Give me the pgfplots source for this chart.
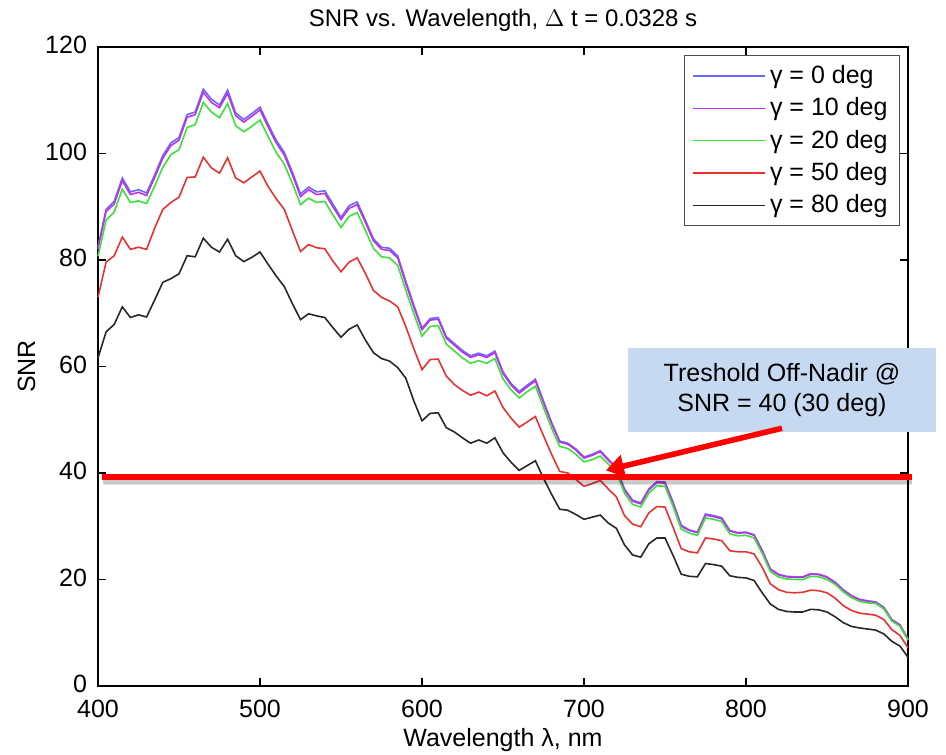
\documentclass[border=0pt]{standalone}
\usepackage{pgfplots}
\usepackage{pgfplotstable}
\pgfplotsset{compat=1.18}
\usetikzlibrary{arrows.meta}
\usepackage{fontspec}
\setmainfont{Liberation Sans}
\definecolor{cg0}{RGB}{105,105,255}
\definecolor{cg10}{RGB}{190,50,230}
\definecolor{cg20}{RGB}{60,225,60}
\definecolor{cg50}{RGB}{232,50,50}
\definecolor{cg80}{RGB}{40,40,40}
\definecolor{boxfill}{RGB}{198,217,240}
\pgfplotstableread{
x g0 g10 g20 g50 g80
400 82.5 82.1 80.7 73.0 61.6
405 89.5 89.1 87.5 79.6 66.5
410 91.0 90.5 89.0 80.8 67.9
415 95.4 94.9 93.3 84.3 71.2
420 92.8 92.3 90.8 82.0 69.2
425 93.2 92.7 91.1 82.4 69.7
430 92.6 92.1 90.6 82.0 69.3
435 96.0 95.5 93.9 86.0 72.5
440 99.6 99.1 97.4 89.5 75.8
445 102.0 101.5 99.8 90.8 76.5
450 103.0 102.5 100.7 91.8 77.4
455 107.3 106.8 104.9 95.5 80.8
460 107.8 107.3 105.4 95.6 80.6
465 112.1 111.5 109.6 99.3 84.1
470 110.2 109.6 107.8 97.3 82.4
475 109.1 108.6 106.7 96.3 81.5
480 111.9 111.3 109.4 99.2 83.9
485 107.6 107.1 105.2 95.4 80.8
490 106.4 105.9 104.1 94.5 79.7
495 107.5 107.0 105.1 95.6 80.5
500 108.7 108.2 106.3 96.7 81.5
505 105.5 105.0 103.2 93.8 79.2
510 102.5 102.0 100.2 91.5 77.0
515 100.2 99.7 98.0 89.5 75.0
520 96.5 96.0 94.4 85.5 71.8
525 92.4 91.9 90.4 81.6 68.8
530 93.7 93.2 91.6 82.9 69.9
535 92.8 92.3 90.8 82.3 69.5
540 93.0 92.5 91.0 82.1 69.2
545 90.5 90.0 88.5 79.8 67.3
550 88.0 87.6 86.1 77.8 65.5
555 90.2 89.7 88.2 79.6 67.0
560 90.9 90.4 88.9 80.4 67.8
565 87.5 87.1 85.6 77.5 65.0
570 84.0 83.6 82.2 74.3 62.6
575 82.4 82.0 80.6 73.0 61.5
580 82.2 81.8 80.4 72.3 61.0
585 80.8 80.4 79.0 71.2 59.8
590 76.0 75.6 74.3 67.5 57.8
595 71.5 71.1 69.9 63.3 53.5
600 67.2 66.9 65.7 59.4 49.8
605 69.0 68.7 67.5 61.3 51.2
610 69.2 68.9 67.7 61.4 51.3
615 65.6 65.3 64.2 58.2 48.5
620 64.3 64.0 62.9 56.6 47.7
625 63.0 62.7 61.6 55.5 46.6
630 62.0 61.7 60.6 54.6 45.6
635 62.5 62.2 61.1 55.2 46.2
640 62.0 61.7 60.6 54.5 45.6
645 62.9 62.6 61.5 55.4 46.6
650 59.0 58.7 57.7 52.3 43.8
655 56.8 56.5 55.6 50.3 42.0
660 55.3 55.0 54.1 48.6 40.5
665 56.5 56.2 55.3 49.6 41.4
670 57.6 57.3 56.3 50.6 42.3
675 53.5 53.2 52.3 47.0 39.0
680 49.5 49.3 48.4 43.5 36.0
685 46.0 45.8 45.0 40.3 33.2
690 45.6 45.4 44.6 40.0 33.0
695 44.5 44.3 43.5 38.8 32.2
700 43.0 42.8 42.1 37.5 31.3
705 43.5 43.3 42.5 38.0 31.7
710 44.2 44.0 43.2 38.6 32.1
715 42.6 42.4 41.7 37.0 30.6
720 41.0 40.8 40.1 35.5 29.6
725 37.0 36.8 36.2 32.0 26.5
730 34.9 34.7 34.1 30.4 24.6
735 34.4 34.2 33.6 29.9 24.2
740 37.0 36.8 36.2 32.5 26.7
745 38.4 38.2 37.6 33.7 27.8
750 38.3 38.1 37.5 33.6 27.8
755 34.5 34.3 33.7 29.8 24.5
760 30.2 30.0 29.5 25.8 21.0
765 29.3 29.2 28.7 25.2 20.6
770 28.9 28.8 28.3 25.0 20.5
775 32.3 32.1 31.6 27.8 23.0
780 32.0 31.8 31.3 27.6 22.8
785 31.6 31.4 30.9 27.3 22.5
790 29.2 29.1 28.6 25.4 20.7
795 28.8 28.7 28.2 25.2 20.4
800 28.9 28.8 28.3 25.2 20.3
805 28.4 28.3 27.8 24.8 19.8
810 25.5 25.4 24.9 22.3 17.5
815 22.0 21.9 21.5 19.2 15.4
820 21.0 20.9 20.5 18.1 14.4
825 20.6 20.5 20.1 17.6 14.0
830 20.5 20.4 20.0 17.5 13.9
835 20.5 20.4 20.0 17.6 13.9
840 21.1 21.0 20.6 18.0 14.4
845 21.0 20.9 20.5 17.9 14.3
850 20.5 20.4 20.0 17.5 13.9
855 19.5 19.4 19.1 16.5 13.0
860 18.1 18.0 17.7 15.1 11.9
865 17.0 16.9 16.6 14.2 11.2
870 16.3 16.2 15.9 13.7 10.9
875 16.0 15.9 15.6 13.5 10.7
880 15.8 15.7 15.5 13.3 10.5
885 14.8 14.7 14.5 12.5 9.8
890 12.5 12.4 12.2 10.6 8.4
895 11.5 11.4 11.2 9.5 7.5
900 8.8 8.8 8.6 7.2 5.4
}\snrdata
\begin{document}
\begin{tikzpicture}
\begin{axis}[
  at={(0,0)}, anchor=south west,
  scale only axis,
  width=405pt, height=319.5pt,
  xmin=400, xmax=900, ymin=0, ymax=120,
  xtick={400,500,...,900}, ytick={0,20,...,120},
  tick align=inside, tickpos=both,
  major tick length=4pt,
  axis line style={black, line width=0.6pt},
  tick style={black, line width=0.6pt},
  /pgf/number format/assume math mode=true,
  ticklabel style={font=\fontsize{12.5}{14}\selectfont},
  xticklabel style={yshift=-3.5pt},
  yticklabel style={xshift=-2pt, yshift=1pt},
  title={SNR vs. Wavelength, $\Delta$ t = 0.0328 s},
  title style={font=\fontsize{12}{14}\selectfont, yshift=-2pt},
  xlabel={Wavelength λ, nm},
  ylabel={SNR},
  label style={font=\fontsize{12.5}{14}\selectfont},
  xlabel style={yshift=1.5pt},
  ylabel style={yshift=-2pt},
  clip=false,
  legend cell align=left,
  legend style={at={(1,1)}, xshift=-4pt, yshift=-4pt, anchor=north east,
    draw=black!70, line width=0.5pt, font=\fontsize{12.5}{14}\selectfont,
    row sep=1.6pt, inner xsep=4pt, inner ysep=3pt},
  legend image code/.code={\draw[#1] (0pt,0pt) -- (36pt,0pt);},
  every axis plot/.append style={line width=0.8pt},
]
\addplot[cg0] table[x=x,y=g0] {\snrdata};
\addlegendentry{γ = 0 deg}
\addplot[cg10] table[x=x,y=g10] {\snrdata};
\addlegendentry{γ = 10 deg}
\addplot[cg20] table[x=x,y=g20] {\snrdata};
\addlegendentry{γ = 20 deg}
\addplot[cg50] table[x=x,y=g50] {\snrdata};
\addlegendentry{γ = 50 deg}
\addplot[cg80] table[x=x,y=g80] {\snrdata};
\addlegendentry{γ = 80 deg}
% threshold line with soft shadow
\draw[black, opacity=0.10, line width=4.5pt] ([yshift=-2pt]axis cs:403,39.25) -- ([yshift=-2pt]axis cs:902.5,39.25);
\draw[black, opacity=0.12, line width=3pt] ([yshift=-1.8pt]axis cs:403,39.25) -- ([yshift=-1.8pt]axis cs:902.5,39.25);
\draw[red, line width=3pt] (axis cs:402.5,39.25) -- (axis cs:902.5,39.25);
% callout box
\node[fill=boxfill, minimum width=154pt, minimum height=42pt, inner sep=0pt,
  align=center, font=\fontsize{12.5}{15}\selectfont]
  at (axis cs:822.2,55.6) {Treshold Off-Nadir @\\SNR = 40 (30 deg)};
\draw[red, line width=2.8pt, -{Triangle[length=9pt,width=11pt]}]
  (axis cs:822.2,48.4) -- (axis cs:713.5,40.5);
\end{axis}
\pgfresetboundingbox
\path[use as bounding box] (-49pt,-34pt) rectangle (424pt,343pt);
\end{tikzpicture}
\end{document}
